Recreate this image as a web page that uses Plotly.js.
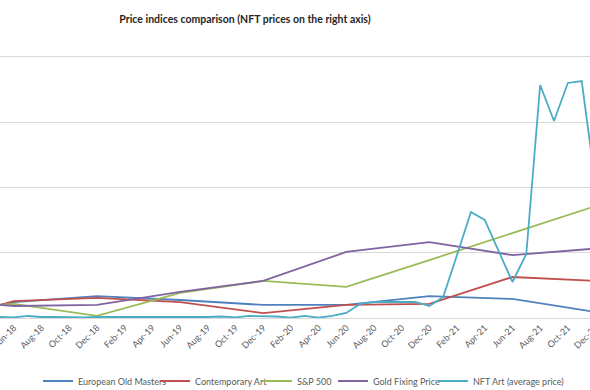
<!DOCTYPE html>
<html>
<head>
<meta charset="utf-8">
<script src="https://cdn.plot.ly/plotly-3.0.1.min.js"></script>
<style>
html, body { margin: 0; padding: 0; overflow: hidden; background: #fff; }
#chart { width: 610px; height: 390px; }
</style>
</head>
<body>
<div id="chart"></div>
<script>
// Monthly category axis
const months = ['May-18','Jun-18','Jul-18','Aug-18','Sep-18','Oct-18','Nov-18','Dec-18',
  'Jan-19','Feb-19','Mar-19','Apr-19','May-19','Jun-19','Jul-19','Aug-19','Sep-19','Oct-19','Nov-19','Dec-19',
  'Jan-20','Feb-20','Mar-20','Apr-20','May-20','Jun-20','Jul-20','Aug-20','Sep-20','Oct-20','Nov-20','Dec-20',
  'Jan-21','Feb-21','Mar-21','Apr-21','May-21','Jun-21','Jul-21','Aug-21','Sep-21','Oct-21','Nov-21','Dec-21'];
const tickLabels = ['Jun-18','Aug-18','Oct-18','Dec-18','Feb-19','Apr-19','Jun-19','Aug-19','Oct-19','Dec-19',
  'Feb-20','Apr-20','Jun-20','Aug-20','Oct-20','Dec-20','Feb-21','Apr-21','Jun-21','Aug-21','Oct-21','Dec-21'];

// Semi-annual index observations (left axis)
const indexMonths = ['May-18','Jun-18','Dec-18','Jun-19','Dec-19','Jun-20','Dec-20','Jun-21','Dec-21'];
const oldMasters   = [100, 101.1, 103.4, 101.9, 100.0, 100.0, 103.4, 102.3, 97.3];
const contemporary = [100, 101.5, 102.7, 101.1, 96.9, 100.0, 100.4, 110.7, 109.2];
const sp500        = [100, 100.4, 95.8, 104.6, 109.2, 106.9, 117.2, 127.6, 137.9];
const gold         = [100, 99.6, 100.0, 105.0, 109.2, 120.3, 124.1, 119.1, 121.6];

// NFT art average price, monthly (right axis)
const nftPrice = [15, 8, 31, 15, 15, 8, 8, 15,
  15, 8, 8, 5, 5, 8, 15, 15, 23, 8, 31, 31,
  23, 5, 31, 5, 31, 77, 215, 245, 245, 250, 245, 184,
  322, 966, 1625, 1502, 1027, 552, 981, 3571, 3019, 3602, 3632, 2038];

const names = ['European Old Masters','Contemporary Art','S&P 500','Gold Fixing Price','NFT Art (average price)'];
const colors = ['#4f81bd','#c0504d','#9bbb59','#8064a2','#4bacc6'];
const legendTextX = [78, 195, 297, 373, 473];

const W = 610, H = 390;
const font = 'Lato, "Open Sans", "Liberation Sans", sans-serif';

const traces = [
  {x: indexMonths, y: oldMasters},
  {x: indexMonths, y: contemporary},
  {x: indexMonths, y: sp500},
  {x: indexMonths, y: gold},
  {x: months, y: nftPrice, yaxis: 'y2'}
].map((t, i) => Object.assign({
  type: 'scatter', mode: 'lines', name: names[i],
  line: {color: colors[i], width: 1.8},
  legend: i === 0 ? 'legend' : 'legend' + (i + 1),
  hoverinfo: 'skip'
}, t));

const layout = {
  width: W, height: H,
  margin: {l: 0, r: 0, t: 57, b: 72},
  paper_bgcolor: '#fff', plot_bgcolor: '#fff',
  font: {family: font, size: 9, color: '#595959'},
  title: {text: '<b>Price indices comparison (NFT prices on the right axis)</b>',
          font: {family: font, size: 10.5, color: '#262626'},
          x: 245 / W, xanchor: 'center', xref: 'container',
          y: 1 - 19 / H, yanchor: 'middle', yref: 'container'},
  xaxis: {type: 'category', categoryorder: 'array', categoryarray: months,
          range: [0, W / 13.85],
          tickmode: 'array', tickvals: tickLabels, ticktext: tickLabels,
          tickangle: -45, ticks: '', showgrid: false,
          showline: true, mirror: true, linecolor: '#d9d9d9', linewidth: 1,
          tickfont: {size: 9, color: '#595959'}, automargin: false},
  yaxis: {range: [95, 195], tick0: 95, dtick: 25, showticklabels: false,
          gridcolor: '#d9d9d9', gridwidth: 1, zeroline: false, ticks: '', fixedrange: true},
  yaxis2: {overlaying: 'y', side: 'right', range: [0, 4000], showgrid: false,
           showticklabels: false, zeroline: false, ticks: ''},
  showlegend: true
};
legendTextX.forEach((tx, i) => {
  const key = i === 0 ? 'legend' : 'legend' + (i + 1);
  layout[key] = {
    x: (tx - 40) / W, xanchor: 'left', xref: 'container',
    y: 1 - 381 / H, yanchor: 'middle', yref: 'container',
    orientation: 'h', bgcolor: 'rgba(0,0,0,0)', borderwidth: 0,
    font: {family: font, size: 9, color: '#595959'}, itemwidth: 30
  };
});

Plotly.newPlot('chart', traces, layout, {staticPlot: true, displayModeBar: false});
</script>
</body>
</html>
